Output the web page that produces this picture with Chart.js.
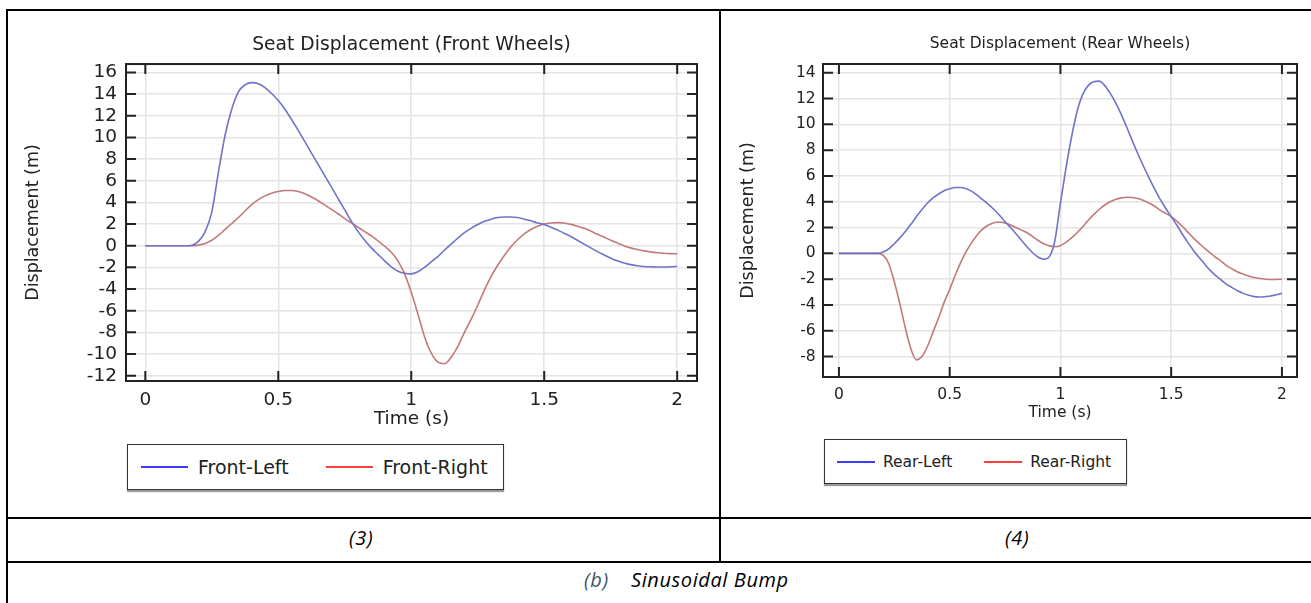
<!DOCTYPE html>
<html>
<head>
<meta charset="utf-8">
<script src="https://cdn.jsdelivr.net/npm/chart.js@4.4.1/dist/chart.umd.min.js"></script>
<style>
  body { margin: 0; background: #fff; width: 1311px; height: 603px; overflow: hidden; position: relative; }
  .ln { position: absolute; background: #000; }
  canvas { position: absolute; }
  .legend { position: absolute; box-sizing: border-box; border: 1.5px solid #333; box-shadow: 0 2px 1px #9a9a9a;
            display: flex; align-items: center; background: #fff; font-family: "DejaVu Sans"; color: #222; }
  .legend .sw { display: inline-block; height: 2px; }
  .cap { position: absolute; font-family: "Open Sans"; font-style: italic; color: #000; white-space: nowrap;
         font-size: 20px; letter-spacing: 0.6px; }
</style>
</head>
<body>
<div class="ln" style="left:6px;top:9px;width:1305px;height:2px"></div>
<div class="ln" style="left:6px;top:9px;width:2px;height:594px"></div>
<div class="ln" style="left:719px;top:9px;width:2px;height:553px"></div>
<div class="ln" style="left:6px;top:517px;width:1305px;height:2px"></div>
<div class="ln" style="left:6px;top:561px;width:1305px;height:2px"></div>

<canvas id="front" width="710" height="420" style="left:8px;top:12px"></canvas>
<canvas id="rear" width="589" height="420" style="left:722px;top:12px"></canvas>

<div class="legend" id="legFront" style="left:127px;top:444px;width:377px;height:46px;font-size:19px;padding-left:13px"></div>
<div class="legend" id="legRear" style="left:824px;top:439px;width:303px;height:45px;font-size:15.5px;padding-left:12px"></div>

<div class="cap" style="left:349px;top:524px">(3)</div>
<div class="cap" style="left:1005px;top:524px">(4)</div>
<div class="cap" style="left:584px;top:566px;color:#44546a">(b)</div>
<div class="cap" style="left:631px;top:566px">Sinusoidal Bump</div>

<script>
'use strict';

var time = [0, 0.025, 0.05, 0.075, 0.1, 0.125, 0.15, 0.175, 0.2, 0.225, 0.25, 0.275, 0.3, 0.325, 0.35, 0.375,
    0.4, 0.425, 0.45, 0.475, 0.5, 0.525, 0.55, 0.575, 0.6, 0.625, 0.65, 0.675, 0.7, 0.725, 0.75, 0.775,
    0.8, 0.825, 0.85, 0.875, 0.9, 0.925, 0.95, 0.975, 1, 1.025, 1.05, 1.075, 1.1, 1.125, 1.15, 1.175,
    1.2, 1.225, 1.25, 1.275, 1.3, 1.325, 1.35, 1.375, 1.4, 1.425, 1.45, 1.475, 1.5, 1.525, 1.55, 1.575,
    1.6, 1.625, 1.65, 1.675, 1.7, 1.725, 1.75, 1.775, 1.8, 1.825, 1.85, 1.875, 1.9, 1.925, 1.95, 1.975, 2];

var frontLeft = [0, 0, 0, 0, 0, 0, 0, 0.05, 0.4, 1.3, 3.1, 6.8, 10.2, 12.6, 14.2, 14.85,
    15.05, 14.95, 14.6, 14.05, 13.4, 12.6, 11.65, 10.65, 9.6, 8.55, 7.5, 6.45, 5.4, 4.35, 3.3, 2.25,
    1.3, 0.5, -0.2, -0.8, -1.4, -1.95, -2.35, -2.55, -2.6, -2.4, -2.0, -1.5, -1.0, -0.4, 0.15, 0.7,
    1.2, 1.6, 1.95, 2.25, 2.45, 2.6, 2.65, 2.65, 2.6, 2.45, 2.3, 2.1, 1.95, 1.7, 1.45, 1.15,
    0.85, 0.5, 0.15, -0.2, -0.55, -0.85, -1.15, -1.4, -1.6, -1.75, -1.85, -1.92, -1.95, -1.97, -1.97, -1.95, -1.9];

var frontRight = [0, 0, 0, 0, 0, 0, 0, 0, 0.05, 0.2, 0.5, 0.95, 1.5, 2.05, 2.6, 3.2,
    3.8, 4.25, 4.6, 4.85, 5.0, 5.1, 5.1, 5.0, 4.8, 4.5, 4.15, 3.75, 3.35, 2.95, 2.5, 2.1,
    1.7, 1.3, 0.9, 0.45, -0.05, -0.6, -1.4, -2.6, -4.3, -6.3, -8.4, -9.9, -10.75, -10.9, -10.3, -9.3,
    -8.0, -6.8, -5.5, -4.1, -2.85, -1.8, -0.9, -0.1, 0.55, 1.1, 1.5, 1.8, 2.0, 2.1, 2.13, 2.1,
    1.97, 1.8, 1.6, 1.35, 1.05, 0.8, 0.5, 0.25, 0.0, -0.2, -0.35, -0.48, -0.58, -0.65, -0.7, -0.73, -0.75];

var rearLeft = [0, 0, 0, 0, 0, 0, 0, 0, 0.1, 0.35, 0.75, 1.2, 1.7, 2.25, 2.85, 3.4,
    3.9, 4.3, 4.6, 4.85, 5.0, 5.1, 5.1, 5.0, 4.8, 4.5, 4.15, 3.8, 3.4, 2.95, 2.45, 2.0,
    1.5, 1.0, 0.5, 0.05, -0.3, -0.45, -0.25, 1.0, 3.9, 6.6, 9.0, 11.0, 12.3, 13.0, 13.3, 13.35,
    13.0, 12.4, 11.65, 10.75, 9.75, 8.7, 7.7, 6.75, 5.85, 5.0, 4.2, 3.5, 2.85, 2.2, 1.5, 0.85,
    0.25, -0.3, -0.8, -1.3, -1.7, -2.05, -2.4, -2.65, -2.9, -3.1, -3.25, -3.35, -3.38, -3.35, -3.3, -3.2, -3.1];

var rearRight = [0, 0, 0, 0, 0, 0, 0, 0, -0.15, -0.8, -2.2, -3.9, -5.8, -7.4, -8.25, -8.0,
    -7.2, -6.1, -5.0, -3.8, -2.8, -1.7, -0.7, 0.15, 0.85, 1.45, 1.9, 2.2, 2.38, 2.43, 2.35, 2.2,
    2.0, 1.8, 1.6, 1.3, 1.0, 0.75, 0.58, 0.52, 0.6, 0.85, 1.2, 1.6, 2.05, 2.55, 3.0, 3.4,
    3.75, 4.0, 4.2, 4.3, 4.35, 4.33, 4.25, 4.1, 3.9, 3.65, 3.35, 3.1, 2.85, 2.5, 2.1, 1.65,
    1.2, 0.8, 0.4, 0.05, -0.3, -0.6, -0.95, -1.2, -1.45, -1.6, -1.75, -1.87, -1.95, -2.0, -2.02, -2.02, -2.0];

var xTicks = [0, 0.5, 1, 1.5, 2];
var frontYTicks = [-12, -10, -8, -6, -4, -2, 0, 2, 4, 6, 8, 10, 12, 14, 16];
var rearYTicks = [-8, -6, -4, -2, 0, 2, 4, 6, 8, 10, 12, 14];

var lineBlue = '#7074c8';
var lineRed = '#c27a7a';
var legendBlue = '#3c3cff';
var legendRed = '#ff4040';

function pairs(values) {
    return time.map(function (t, i) { return {x: t, y: values[i]}; });
}

// centre the title over the plot area, like the reference
var titleOverPlot = {
    id: 'titleOverPlot',
    afterLayout: function (chart) {
        if (chart.titleBlock) {
            chart.titleBlock.left = chart.chartArea.left;
            chart.titleBlock.right = chart.chartArea.right;
        }
    }
};

// box around the plot with inward tick marks on all four sides
var frameTicks = {
    id: 'frameTicks',
    afterDatasetsDraw: function (chart) {
        var a = chart.chartArea, ctx = chart.ctx;
        var xs = chart.scales.x, ys = chart.scales.y;
        var len = 10;
        ctx.save();
        ctx.strokeStyle = '#222';
        ctx.lineWidth = 2;
        ctx.strokeRect(a.left, a.top, a.right - a.left, a.bottom - a.top);
        ctx.beginPath();
        xs.ticks.forEach(function (t) {
            var p = xs.getPixelForValue(t.value);
            ctx.moveTo(p, a.top); ctx.lineTo(p, a.top + len);
            ctx.moveTo(p, a.bottom); ctx.lineTo(p, a.bottom - len);
        });
        ys.ticks.forEach(function (t) {
            var p = ys.getPixelForValue(t.value);
            ctx.moveTo(a.left, p); ctx.lineTo(a.left + len, p);
            ctx.moveTo(a.right, p); ctx.lineTo(a.right - len, p);
        });
        ctx.stroke();
        ctx.restore();
    }
};

function makeChart(id, o) {
    var font = function (size) { return {family: "'DejaVu Sans'", size: size, weight: 'normal'}; };
    return new Chart(document.getElementById(id), {
        type: 'line',
        data: {
            datasets: [
                {label: o.labels[0], data: pairs(o.left), borderColor: lineBlue, borderWidth: 1.6},
                {label: o.labels[1], data: pairs(o.right), borderColor: lineRed, borderWidth: 1.6}
            ]
        },
        options: {
            responsive: false,
            animation: false,
            elements: {
                point: {radius: 0},
                line: {cubicInterpolationMode: 'monotone', fill: false}
            },
            layout: {padding: {left: 0, right: o.padRight, top: 0, bottom: 0}},
            plugins: {
                legend: {display: false},
                tooltip: {enabled: false},
                title: {
                    display: true, text: o.title, color: '#222', font: font(o.titleFs),
                    padding: {top: o.titlePad[0], bottom: o.titlePad[1]}
                }
            },
            scales: {
                x: {
                    type: 'linear', min: o.xRange[0], max: o.xRange[1],
                    afterBuildTicks: function (s) { s.ticks = xTicks.map(function (v) { return {value: v}; }); },
                    afterFit: function (s) { s.height = o.xHeight; },
                    ticks: {
                        color: '#222', font: font(o.fs), padding: o.xTickPad, maxRotation: 0, autoSkip: false,
                        callback: function (v) { return String(v); }
                    },
                    grid: {color: '#e4e4e4', lineWidth: 1.5, drawTicks: false},
                    border: {display: false},
                    title: {display: true, text: 'Time (s)', color: '#222', font: font(o.fs), padding: {top: 0, bottom: o.xTitlePad}}
                },
                y: {
                    type: 'linear', min: o.yRange[0], max: o.yRange[1],
                    afterBuildTicks: function (s) { s.ticks = o.yTicks.map(function (v) { return {value: v}; }); },
                    afterFit: function (s) { s.width = o.yWidth; },
                    ticks: {
                        color: '#222', font: font(o.fs), padding: o.yTickPad, autoSkip: false,
                        callback: function (v) { return String(v); }
                    },
                    grid: {color: '#e4e4e4', lineWidth: 1.5, drawTicks: false},
                    border: {display: false},
                    title: {display: true, text: 'Displacement (m)', color: '#222', font: font(17.5), padding: {top: o.yTitlePad, bottom: 0}}
                }
            }
        },
        plugins: [titleOverPlot, frameTicks]
    });
}

function buildLegend(chart, boxId, sw, gapIn, gapOut) {
    var box = document.getElementById(boxId);
    var colors = [legendBlue, legendRed];
    chart.data.datasets.forEach(function (ds, i) {
        var line = document.createElement('span');
        line.className = 'sw';
        line.style.width = sw + 'px';
        line.style.background = colors[i];
        line.style.marginLeft = (i === 0 ? 0 : gapOut) + 'px';
        line.style.marginRight = gapIn + 'px';
        var txt = document.createElement('span');
        txt.textContent = ds.label;
        box.appendChild(line);
        box.appendChild(txt);
    });
}

var front = makeChart('front', {
    title: 'Seat Displacement (Front Wheels)', labels: ['Front-Left', 'Front-Right'],
    left: frontLeft, right: frontRight, fs: 18.5, titleFs: 18.7,
    padRight: 21, titlePad: [21.8, 7.8],
    xRange: [-0.0726, 2.0745], yRange: [-12.49, 16.77], yTicks: frontYTicks,
    xHeight: 51, yWidth: 118, xTickPad: 8, xTitlePad: 1.8, yTickPad: 9, yTitlePad: 15.4
});

var rear = makeChart('rear', {
    title: 'Seat Displacement (Rear Wheels)', labels: ['Rear-Left', 'Rear-Right'],
    left: rearLeft, right: rearRight, fs: 15.5, titleFs: 15.5,
    padRight: 14, titlePad: [22.7, 10.7],
    xRange: [-0.0719, 2.068], yRange: [-9.58, 14.675], yTicks: rearYTicks,
    xHeight: 55, yWidth: 101, xTickPad: 9, xTitlePad: 9.5, yTickPad: 7.3, yTitlePad: 16.4
});

buildLegend(front, 'legFront', 47, 10, 37);
buildLegend(rear, 'legRear', 38, 8, 32);
</script>
</body>
</html>
